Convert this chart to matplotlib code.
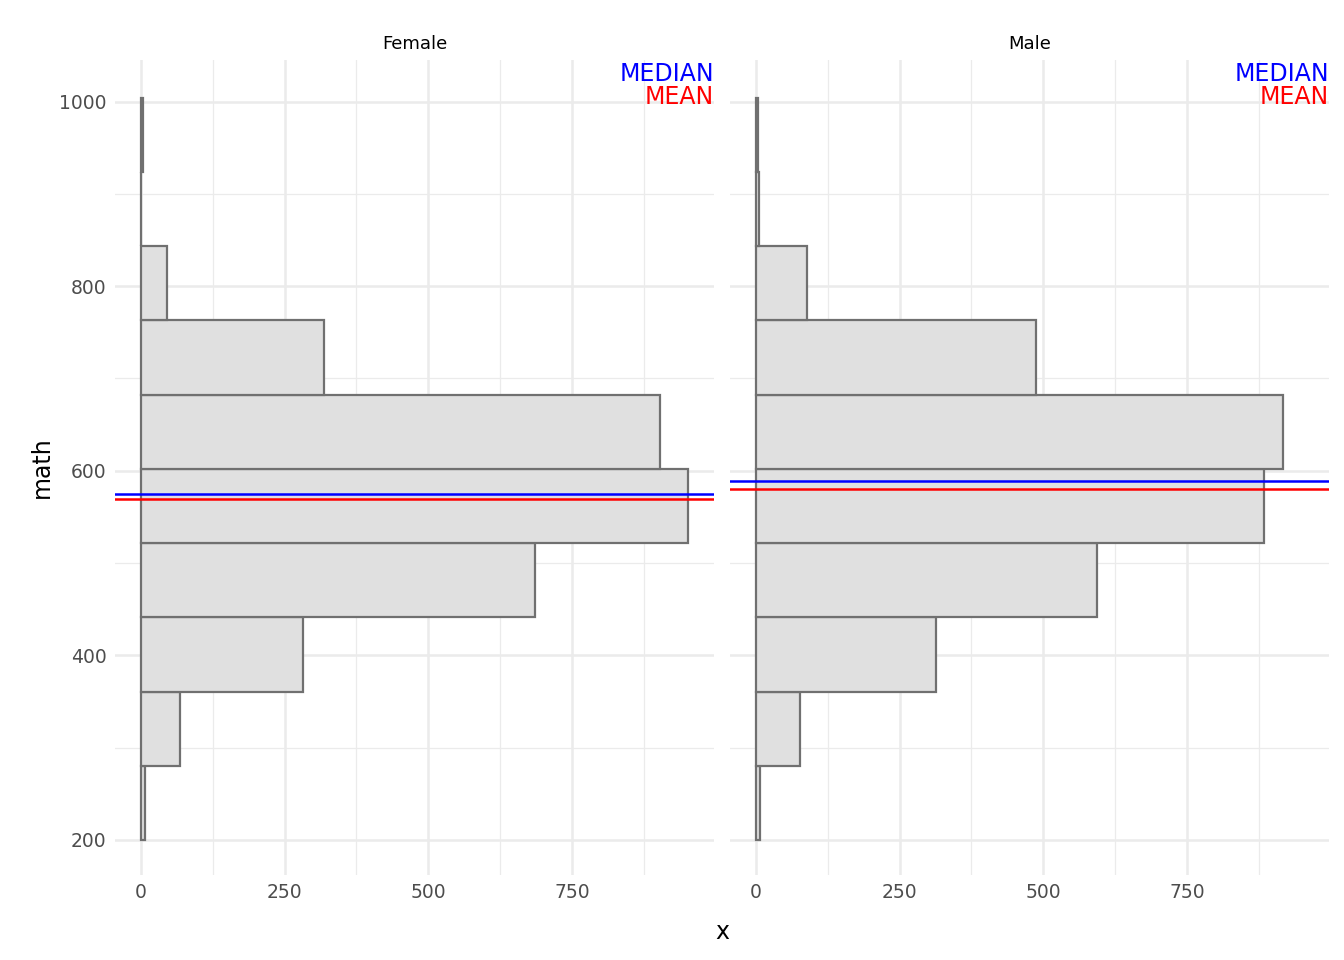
import numpy as np
import matplotlib
matplotlib.use("Agg")
from matplotlib import pyplot as plt

edges = np.linspace(200, 1004, 11)
panels = ['Female', 'Male']
counts = {
    'Female': [8, 68, 282, 686, 952, 903, 318, 45, 0, 3],
    'Male': [8, 76, 313, 593, 884, 917, 487, 89, 5, 3],
}
medians = {'Female': 575, 'Male': 589}
means = {'Female': 569.5, 'Male': 580}

fig = plt.figure(figsize=(13.44, 9.6), dpi=100)
W, H = 1344, 960
boxes = [(115, 60, 714, 875), (730, 60, 1329, 875)]
grid_c = '#ebebeb'
for name, (l, t, r, b) in zip(panels, boxes):
    ax = fig.add_axes([l / W, 1 - b / H, (r - l) / W, (b - t) / H])
    ax.barh(edges[:-1], counts[name], height=np.diff(edges), align='edge',
            color='#e0e0e0', edgecolor='#707070', linewidth=1.6, zorder=2)
    ax.axhline(medians[name], color='blue', lw=1.8, zorder=3)
    ax.axhline(means[name], color='red', lw=1.8, zorder=3)
    ax.set_xlim(-45, 997)
    ax.set_ylim(162, 1045)
    ax.set_xticks([0, 250, 500, 750])
    ax.set_xticks([125, 375, 625, 875], minor=True)
    ax.set_yticks([200, 400, 600, 800, 1000])
    ax.set_yticks([300, 500, 700, 900], minor=True)
    ax.grid(True, which='major', color=grid_c, lw=1.8, zorder=0)
    ax.grid(True, which='minor', color=grid_c, lw=0.9, zorder=0)
    ax.tick_params(which='both', length=0, labelsize=13.5, labelcolor='#4d4d4d', pad=6)
    for s in ax.spines.values():
        s.set_visible(False)
    ax.set_title(name, fontsize=13, pad=8)
    ax.text(997, 1043, 'MEDIAN', color='blue', ha='right', va='top', fontsize=17)
    ax.text(997, 1018, 'MEAN', color='red', ha='right', va='top', fontsize=17)
    if name == 'Male':
        ax.set_yticklabels([])
    else:
        ax.set_ylabel('math', fontsize=17)

fig.text(722 / W, 1 - 932 / H, 'x', fontsize=17, ha='center', va='center')
fig.savefig('out.png', dpi=100)
